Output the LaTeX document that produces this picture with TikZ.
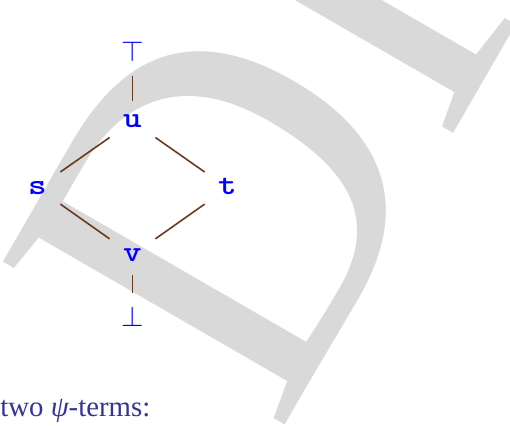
\documentclass[tikz,border=0pt]{standalone}
\usepackage{fontspec}
\setmainfont{Liberation Serif}
\newfontfamily\wmfont{Liberation Serif}
\newfontfamily\lblfont[FakeStretch=1.2]{lmmonolt10-bold.otf}
\definecolor{wmgray}{RGB}{217,217,217}
\definecolor{edgebrown}{RGB}{107,58,30}
\definecolor{captext}{RGB}{51,51,153}
\begin{document}
\begin{tikzpicture}[x=0.5pt,y=-0.5pt,
  lbl/.style={text=blue, font=\fontsize{14.7}{16}\lblfont,
    inner sep=0pt, minimum width=22.5pt, minimum height=19.6pt,
    text height=6.3pt, text depth=0pt},
  ext/.style={text=blue, font=\fontsize{14.4}{16}\selectfont,
    inner sep=0pt, minimum height=23.5pt},
  edge/.style={draw=edgebrown, line width=0.8pt}]
\useasboundingbox (0,0) rectangle (510,426);
\clip (0,0) rectangle (510,426);
% watermark
\node[anchor=base west, inner sep=0pt, rotate=60, xscale=0.93, text=wmgray,
  font=\wmfont\fontsize{248.6}{248.6}\selectfont] (wm) at (278,437) {DRAFT};
% diagram
\node[ext] (top) at (132.5,51.7) {$\top$};
\node[lbl] (u) at (132.5,121.5) {u};
\node[lbl] (s) at (37.5,188) {s};
\node[lbl] (t) at (227.5,188) {t};
\node[lbl] (v) at (132.5,255) {v};
\node[ext] (bot) at (132.5,316.5) {$\bot$};
\draw[edge] (top) -- (u);
\draw[edge] (u) -- (s);
\draw[edge] (u) -- (t);
\draw[edge] (s) -- (v);
\draw[edge] (t) -- (v);
\draw[edge] (v) -- (bot);
% caption
\node[anchor=base west, inner sep=0pt, text=captext,
  font=\fontsize{14.4}{17}\selectfont] (cap) at (0,416.5) {two {\itshape ψ}-terms:};
\end{tikzpicture}
\end{document}
